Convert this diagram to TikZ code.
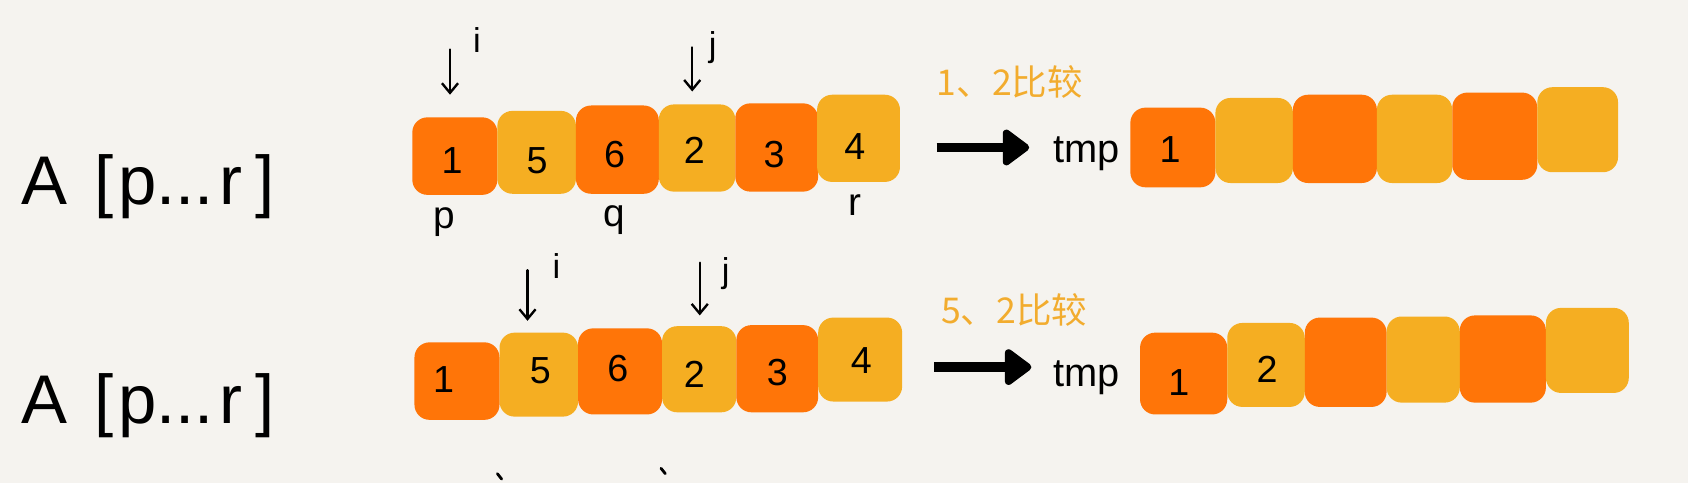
\documentclass[tikz,border=0pt]{standalone}
\usepackage{fontspec}
\setmainfont{Liberation Sans}
\newfontfamily\cjk{Noto Sans CJK SC}
\usetikzlibrary{arrows.meta,fit}
\definecolor{bgc}{HTML}{F5F3EF}
\definecolor{dor}{HTML}{FF7508}
\definecolor{yel}{HTML}{F5AE22}
\definecolor{ann}{HTML}{F2AC2E}
\begin{document}
\begin{tikzpicture}[x=1pt,y=-1pt,
  cell/.style={rounded corners=14pt, inner sep=0pt},
  dcell/.style={cell, fill=dor},
  ycell/.style={cell, fill=yel},
  dig/.style={inner sep=0pt, font=\fontsize{35}{35}\selectfont},
  ptr/.style={line width=2.2pt, line cap=round, -{Straight Barb[length=9pt,width=15pt]}},
  big/.style={line width=9pt, -{Triangle[length=27pt,width=38pt,round]}},
  idx/.style={font=\fontsize{32}{32}\selectfont},
  lbl/.style={anchor=base, font=\fontsize{36}{36}\selectfont},
  arr/.style={anchor=base west, font=\fontsize{64}{64}\selectfont},
  cmp/.style={text=ann, font=\cjk\fontsize{33}{33}\selectfont},
  tmpl/.style={anchor=base west, font=\fontsize{37}{37}\selectfont},
  stub/.style={line width=2.6pt, line cap=round}
]
\fill[bgc] (0,0) rectangle (1568,449);
\useasboundingbox (0,0) rectangle (1568,449);

% ---------- row 1 ----------
\node[arr] (A1) at (16,190) {A\hspace{26pt}[\hspace{4pt}p...\hspace{5pt}r\hspace{12pt}]};

\node[dcell, fit={(383,109)(462,181)}] (a1) {};
\node[ycell, fit={(462,103)(535,180)}] (a2) {};
\node[dcell, fit={(535,98)(612,180)}] (a3) {};
\node[ycell, fit={(612,97)(683,178)}] (a4) {};
\node[dcell, fit={(683,96)(760,178)}] (a5) {};
\node[ycell, fit={(759,88)(836,169)}] (a6) {};
\node[dig] (a1t) at (420,149) {1};
\node[dig] (a2t) at (499,149) {5};
\node[dig] (a3t) at (571,144) {6};
\node[dig] (a4t) at (645,140) {2};
\node[dig] (a5t) at (719,144) {3};
\node[dig] (a6t) at (794,136) {4};

\coordinate (ai1) at (418,46); \coordinate (ai2) at (418,88);
\draw[ptr] (ai1) -- (ai2);
\node[idx] (ail) at (443,37) {i};
\coordinate (aj1) at (643,44); \coordinate (aj2) at (643,85);
\draw[ptr] (aj1) -- (aj2);
\node[idx] (ajl) at (662,44) {j};

\node[lbl] (ap) at (413,212) {p};
\node[lbl] (aq) at (571,210) {q};
\node[lbl] (ar) at (794,200) {r};

\node[cmp] (acmp) at (938,76) {1、2比较};
\coordinate (ab1) at (870,137); \coordinate (ab2) at (956,137);
\draw[big] (ab1) -- (ab2);
\node[tmpl] (atmp) at (975,151) {tmp};

\node[dcell, fit={(1050,100)(1129,174)}] (c1) {};
\node[ycell, fit={(1129,91)(1201,170)}] (c2) {};
\node[dcell, fit={(1201,88)(1279,170)}] (c3) {};
\node[ycell, fit={(1279,88)(1349,170)}] (c4) {};
\node[dcell, fit={(1349,86)(1428,167)}] (c5) {};
\node[ycell, fit={(1428,81)(1503,160)}] (c6) {};
\node[dig] (c1t) at (1087,139) {1};

% ---------- row 2 ----------
\node[arr] (A2) at (16,393) {A\hspace{26pt}[\hspace{4pt}p...\hspace{5pt}r\hspace{12pt}]};

\node[dcell, fit={(385,318)(464,390)}] (b1) {};
\node[ycell, fit={(464,309)(537,387)}] (b2) {};
\node[dcell, fit={(537,305)(615,385)}] (b3) {};
\node[ycell, fit={(615,303)(684,383)}] (b4) {};
\node[dcell, fit={(684,302)(760,383)}] (b5) {};
\node[ycell, fit={(760,295)(838,373)}] (b6) {};
\node[dig] (b1t) at (412,353) {1};
\node[dig] (b2t) at (502,344) {5};
\node[dig] (b3t) at (574,342) {6};
\node[dig] (b4t) at (645,348) {2};
\node[dig] (b5t) at (722,346) {3};
\node[dig] (b6t) at (800,335) {4};

\coordinate (bi1) at (490,251); \coordinate (bi2) at (490,298);
\draw[ptr] (bi1) -- (bi2);
\node[idx] (bil) at (517,247) {i};
\coordinate (bj1) at (650,244); \coordinate (bj2) at (650,293);
\draw[ptr] (bj1) -- (bj2);
\node[idx] (bjl) at (674,254) {j};

\node[cmp] (bcmp) at (942,288) {5、2比较};
\coordinate (bb1) at (868,341); \coordinate (bb2) at (958,341);
\draw[big] (bb1) -- (bb2);
\node[tmpl] (btmp) at (975,359) {tmp};

\node[dcell, fit={(1059,309)(1140,385)}] (d1) {};
\node[ycell, fit={(1140,300)(1212,378)}] (d2) {};
\node[dcell, fit={(1212,295)(1288,378)}] (d3) {};
\node[ycell, fit={(1288,294)(1356,374)}] (d4) {};
\node[dcell, fit={(1356,293)(1436,374)}] (d5) {};
\node[ycell, fit={(1436,286)(1513,365)}] (d6) {};
\node[dig] (d1t) at (1095,355) {1};
\node[dig] (d2t) at (1177,343) {2};

% cut-off strokes of the next row
\draw[stub] (462,440) -- (466,445);
\draw[stub] (614,435) -- (618,440);
\end{tikzpicture}
\end{document}
